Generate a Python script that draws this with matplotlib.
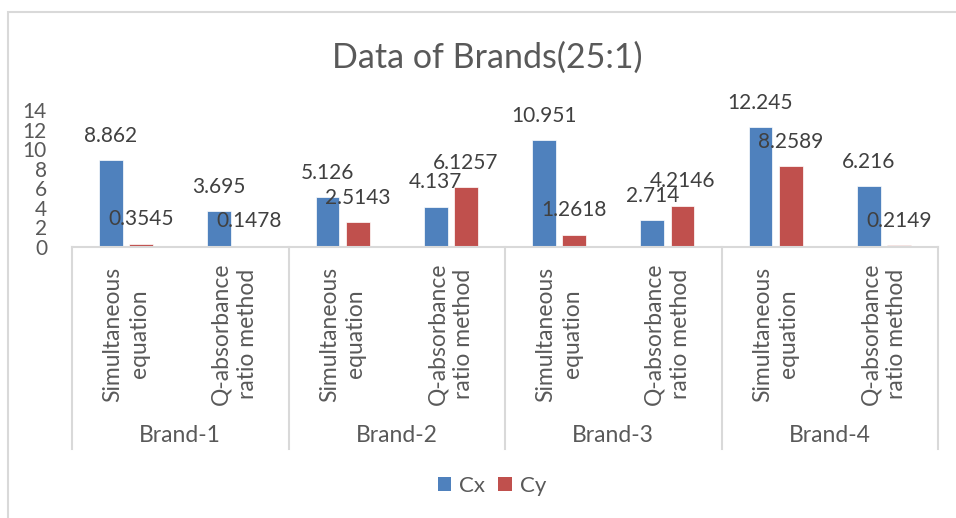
import numpy as np
import matplotlib
matplotlib.use('Agg')
import matplotlib.pyplot as plt
from matplotlib.patches import Patch, Rectangle

# data
brands = ['Brand-1', 'Brand-2', 'Brand-3', 'Brand-4']
methods = ['Simultaneous\nequation', 'Q-absorbance\nratio method']
cx = [8.862, 3.695, 5.126, 4.137, 10.951, 2.714, 12.245, 6.216]
cy = [0.3545, 0.1478, 2.5143, 6.1257, 1.2618, 4.2146, 8.2589, 0.2149]
cx_labels = ['8.862', '3.695', '5.126', '4.137', '10.951', '2.714', '12.245', '6.216']
cy_labels = ['0.3545', '0.1478', '2.5143', '6.1257', '1.2618', '4.2146', '8.2589', '0.2149']
yticks = [0, 2, 4, 6, 8, 10, 12, 14]

blue = '#4F81BD'
red = '#C0504D'
txt = '#595959'
line = '#D9D9D9'

plt.rcParams['font.family'] = ['Lato', 'DejaVu Sans']

fig = plt.figure(figsize=(9.56, 5.18), dpi=100)
W, H = 956, 518

# chart area border
fig.patches.append(Rectangle((8 / W, -0.1), 1.2, 1 - 12 / H + 0.1, transform=fig.transFigure,
                             fill=False, edgecolor=line, linewidth=1.5))

ax = fig.add_axes([72 / W, 1 - 247 / H, (938 - 72) / W, (247 - 110) / H])
x = np.arange(len(cx))
bw = 0.22
off = 0.14
b1 = ax.bar(x - off, cx, bw, color=blue, edgecolor='white', linewidth=0.5)
b2 = ax.bar(x + off, cy, bw, color=red, edgecolor='white', linewidth=0.5)

for rect, lab in zip(list(b1) + list(b2), cx_labels + cy_labels):
    ax.annotate(lab, (rect.get_x() + rect.get_width() / 2, rect.get_height()),
                xytext=(0, 17.5), textcoords='offset points', ha='center', va='center',
                fontsize=15, color='#404040')

ax.set_xlim(-0.5, len(cx) - 0.5)
ax.set_ylim(0, 14)
ax.set_yticks(yticks)
ax.tick_params(axis='y', length=0, pad=18, labelsize=15, labelcolor=txt)
ax.set_xticks([])
for s in ['top', 'right', 'left']:
    ax.spines[s].set_visible(False)
ax.spines['bottom'].set_color(line)
ax.spines['bottom'].set_linewidth(1.5)

# multi-level category axis
tr = ax.get_xaxis_transform()
box_bottom = -(449 - 247) / (247 - 110)
for g in range(len(brands) + 1):
    xs = g * 2 - 0.5
    ax.plot([xs, xs], [0, box_bottom], transform=tr, color=line, lw=1.5, clip_on=False)
sub_y = -(334 - 247) / (247 - 110)
for i in range(len(cx)):
    ax.text(i, sub_y, methods[i % 2], transform=tr, rotation=90, ha='center', va='center',
            multialignment='center', fontsize=16.5, color=txt, linespacing=1.3)
grp_y = -(435 - 247) / (247 - 110)
for g, b in enumerate(brands):
    ax.text(g * 2 + 0.5, grp_y, b, transform=tr, ha='center', va='center', fontsize=16.5, color=txt)

fig.text(487 / W, 1 - 58 / H, 'Data of Brands(25:1)', ha='center', va='center',
         fontsize=24.5, color=txt)

handles = [Patch(facecolor=blue, label='Cx'), Patch(facecolor=red, label='Cy')]
fig.legend(handles=handles, loc='center', bbox_to_anchor=(492 / W, 1 - 486 / H), ncol=2,
           frameon=False, fontsize=16, labelcolor=txt, handlelength=0.6, handleheight=0.6,
           handletextpad=0.35, columnspacing=0.6)

fig.savefig('out.png', dpi=100, facecolor='white')
